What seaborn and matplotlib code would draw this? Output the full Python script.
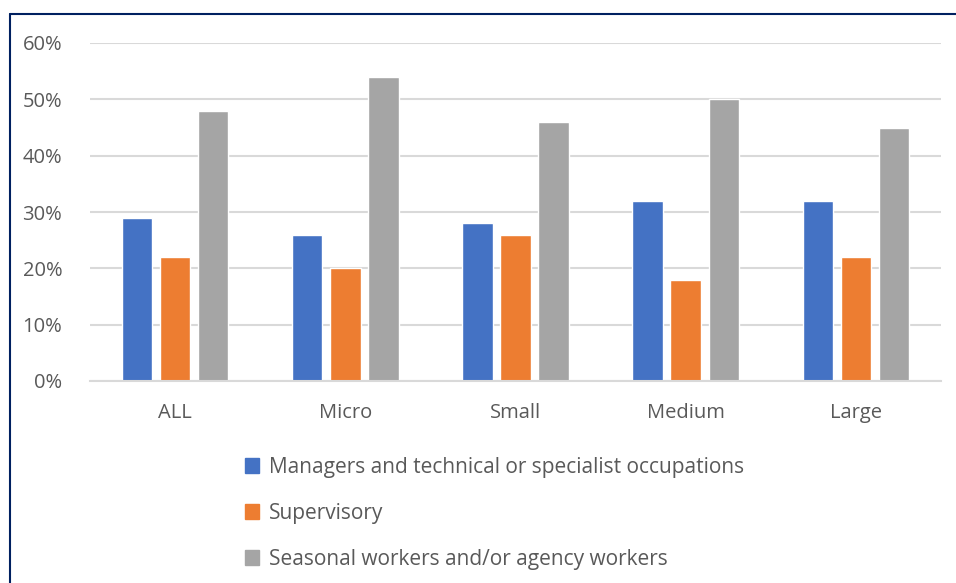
import pandas as pd
import numpy as np
import matplotlib.pyplot as plt
import seaborn as sns
from matplotlib.lines import Line2D
from matplotlib.patches import Patch

categories = ["ALL", "Micro", "Small", "Medium", "Large"]
series = ["Managers and technical or specialist occupations",
          "Supervisory",
          "Seasonal workers and/or agency workers"]
managers = [29, 26, 28, 32, 32]
supervisory = [22, 20, 26, 18, 22]
seasonal = [48, 54, 46, 50, 45]
colors = ["#4472C4", "#ED7D31", "#A5A5A5"]

df = pd.DataFrame({
    "size": categories * 3,
    "group": [series[0]] * 5 + [series[1]] * 5 + [series[2]] * 5,
    "value": managers + supervisory + seasonal,
})

sns.set_style("white")
plt.rcParams["font.family"] = ["Open Sans", "DejaVu Sans"]

fig = plt.figure(figsize=(9.56, 5.83), dpi=100)
ax = fig.add_axes([90 / 956, 1 - 381 / 583, 851 / 956, 338 / 583])

sns.barplot(data=df, x="size", y="value", hue="group", palette=colors,
            width=0.67, gap=0.2, ax=ax, legend=False, saturation=1)

ax.set_ylim(0, 60)
ax.set_yticks(range(0, 61, 10))
ax.set_yticklabels([f"{v}%" for v in range(0, 61, 10)])
ax.set_xlim(-0.5, 4.5)
ax.set_xlabel("")
ax.set_ylabel("")
ax.grid(axis="y", color="#D9D9D9", linewidth=1.5)
ax.set_axisbelow(True)
for s in ["top", "right", "left"]:
    ax.spines[s].set_visible(False)
ax.spines["bottom"].set_color("#D9D9D9")
ax.spines["bottom"].set_linewidth(1.5)
ax.tick_params(axis="both", length=0, labelsize=14.5, colors="#595959")
ax.tick_params(axis="x", pad=16)
ax.tick_params(axis="y", pad=20)

handles = [Patch(color=c) for c in colors]
fig.legend(handles, series, loc="upper left", bbox_to_anchor=(226 / 956, 1 - 438 / 583),
           frameon=False, fontsize=15, labelcolor="#595959", handlelength=0.7,
           handleheight=0.7, handletextpad=0.45, labelspacing=1.2)

# dark outline round the chart area
fig.add_artist(Line2D([10 / 956, 1], [1 - 14 / 583, 1 - 14 / 583],
                      transform=fig.transFigure, color="#002060", linewidth=1.5))
fig.add_artist(Line2D([10 / 956, 10 / 956], [0, 1 - 14 / 583],
                      transform=fig.transFigure, color="#002060", linewidth=1.5))

fig.savefig("out.png", dpi=100)
